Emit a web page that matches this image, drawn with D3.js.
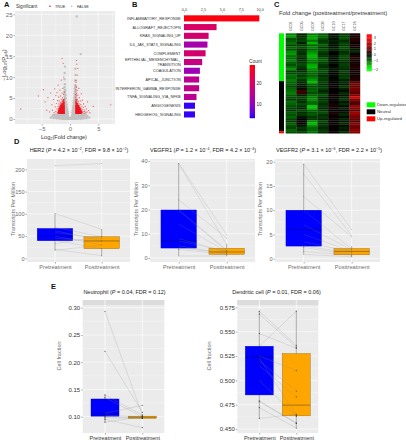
<!DOCTYPE html>
<html><head><meta charset="utf-8">
<script src="https://cdnjs.cloudflare.com/ajax/libs/d3/7.8.5/d3.min.js"></script>
<style>
html,body{margin:0;padding:0;background:#fff}
svg{display:block;font-family:"Liberation Sans",Arial,sans-serif}
</style></head><body><svg id="c" width="406" height="440"></svg>
<script>
// ---------- Panel A: volcano (log2FC, -log10 Padj) ----------
const volcanoGrey = [[1.2,24.5],[1.9,15.5],[-0.9,12.5],[-0.95,11],[0.95,12],[0.98,10.5],[-0.97,9.5],[0.92,9.2],[-0.9,8.3],[0.9,8.1],[-0.96,7.6],[0.85,7.3],[-0.85,6.8],[0.95,6.9],[-0.92,6.2],[0.8,6.1],[-0.8,5.7],[0.9,5.6],[-0.95,5.3],[0.76,5.1],[-0.72,4.9],[0.95,4.8],[-0.88,4.6],[0.7,4.4],[-0.95,4.3],[0.86,4.2],[-0.7,4.05],[0.66,3.9],[-0.82,3.85],[0.95,3.75],[-0.62,3.5],[0.8,3.5],[-0.95,3.45],[0.6,3.2],[-0.78,3.2],[0.93,3.15],[-0.6,2.95],[0.72,2.9],[-0.9,2.85],[0.55,2.65],[-0.7,2.65],[0.85,2.6],[-0.52,2.4],[0.96,2.35],[-0.82,2.35],[0.65,2.25],[-0.95,2.1],[0.48,2.05],[-0.6,2.05],[0.8,2],[-0.46,1.85],[0.95,1.75],[-0.75,1.8],[0.58,1.7],[-0.9,1.6],[0.42,1.55],[-0.55,1.55],[0.72,1.45],[-0.4,1.35],[0.88,1.3],[-0.7,1.3],[0.5,1.25],[-0.96,1.25],
[-3.4,0.3],[-3.1,0.65],[-2.9,0.2],[-2.8,0.9],[-2.6,0.45],[-2.5,1.1],[-2.4,0.15],[-2.3,0.7],[-2.2,1.15],[-2.1,0.35],[-2,0.85],[-1.9,0.1],[-1.85,1.2],[-1.8,0.55],[-1.7,0.95],[-1.65,0.25],[-1.55,0.7],[-1.5,1.2],[-1.42,0.05],[-1.4,0.45],[-1.33,0.9],[-1.25,0.2],[-1.2,1.15],[-1.17,0.65],[-1.1,0.02],[-1.05,0.4],[-1,0.85],[-0.95,0.18],[-0.9,1.1],[-0.85,0.6],[-0.8,0.05],[-0.75,0.35],[-0.7,0.95],[-0.65,0.15],[-0.6,0.6],[-0.55,1.1],[-0.5,0.02],[-0.47,0.4],[-0.4,0.8],[-0.36,0.12],[-0.3,0.45],[-0.25,0.02],[-0.2,0.22],[-0.13,0.06],[-0.08,0.02],
[3.4,0.35],[3.05,0.7],[2.85,0.15],[2.75,1],[2.55,0.5],[2.5,1.2],[2.35,0.12],[2.28,0.75],[2.18,1.1],[2.08,0.3],[1.98,0.88],[1.9,0.06],[1.84,1.2],[1.76,0.52],[1.68,1],[1.62,0.2],[1.54,0.68],[1.48,1.15],[1.4,0.08],[1.38,0.42],[1.3,0.92],[1.24,0.18],[1.18,1.2],[1.14,0.62],[1.08,0.03],[1.02,0.38],[0.98,0.86],[0.93,0.14],[0.88,1.08],[0.83,0.58],[0.78,0.04],[0.73,0.34],[0.68,0.96],[0.62,0.14],[0.58,0.62],[0.53,1.08],[0.48,0.03],[0.44,0.38],[0.38,0.8],[0.33,0.12],[0.28,0.42],[0.23,0.03],[0.18,0.2],[0.12,0.05],[0.06,0.02],[1.05,1.15],[-1.05,1.15],[1.5,0.85],[-1.5,0.35],[0.9,0.32],[-0.9,0.78],[0.75,1.18],[-0.78,1.2],[2.2,0.45],[-2.25,0.95],[0.6,0.2],[-0.58,0.25],
[-0.82,1.0],[-0.68,0.6],[-0.92,0.5],[-1.3,0.5],[-1.5,0.1],[-1.75,0.4],[-1.95,0.6],[-2.2,0.2],[-0.98,3.0],[-0.85,2.6],[-0.72,2.2],[-0.62,1.75],[-0.85,1.5],[-0.8,3.7],[-0.9,4.0],[-0.85,5.1],[-0.93,5.9],[-0.9,7.0],[-0.95,6.6],[0.82,1.0],[0.68,0.6],[0.92,0.5],[1.3,0.5],[1.5,0.1],[1.75,0.4],[1.95,0.6],[2.2,0.2],[0.98,3.0],[0.85,2.2],[0.72,2.2],[0.62,1.75],[0.85,1.5],[0.8,3.7],[0.9,4.0],[0.85,5.1],[0.93,5.9],[0.9,6.6],[0.95,7.6],[-1.15,0.9],[1.15,0.9],[-1.6,1.05],[1.6,1.05],[-2.35,1.0],[2.4,0.9],[-0.5,0.7],[0.5,0.75],[-0.38,0.55],[0.36,0.55],[-3.0,0.95],[3.0,0.4],[-2.65,0.75],[2.65,0.8]];
const volcanoRed = [[-8.7,2.4],[7.2,3.4],[-5.6,5.5],[-4.7,7],[4.1,3],[-4.4,4.1],[-4.1,2.1],[-3.9,5.1],[-3.6,1.7],[-3.4,6.2],[-3.2,3.4],[-3.1,2.1],[-2.9,4.7],[-2.8,1.5],[-2.7,7.2],[-2.6,2.9],[-2.5,5.6],[-2.5,1.8],[-2.4,3.7],[-2.3,2.4],[-2.3,6.3],[-2.2,1.5],[-2.2,4.4],[-2.1,3],[-2.1,8.1],[-2.05,1.9],[-2,2.5],[-2,5.2],[-1.95,1.4],[-1.95,3.6],[-1.9,4.3],[-1.9,2.1],[-1.85,2.9],[-1.85,1.6],[-1.8,6.9],[-1.8,3.3],[-1.75,1.35],[-1.75,2.4],[-1.7,3.9],[-1.7,1.85],[-1.7,5.5],[-1.65,2.7],[-1.65,3.1],[-1.6,1.45],[-1.6,2.15],[-1.55,9.3],[-1.55,4.7],[-1.55,3.5],[-1.5,1.65],[-1.5,2.5],[-1.5,3],[-1.45,1.35],[-1.45,2],[-1.45,4.1],[-1.4,14.5],[-1.4,6.2],[-1.4,2.75],[-1.4,3.4],[-1.35,1.55],[-1.35,2.25],[-1.35,5.1],[-1.3,1.35],[-1.3,1.9],[-1.3,3],[-1.3,3.8],[-1.25,7.3],[-1.25,2.5],[-1.25,1.6],[-1.25,4.4],[-1.2,13.3],[-1.2,2.1],[-1.2,3.3],[-1.2,1.4],[-1.15,2.8],[-1.15,1.75],[-1.15,5.9],[-1.15,3.7],[-1.1,2.35],[-1.1,1.45],[-1.1,3.1],[-1.1,10],[-1.08,1.95],[-1.08,4.1],[-1.05,1.35],[-1.05,2.6],[-1.05,3.45],[-1.05,1.65],[-1.03,2.15],[-1.03,2.95],[-1.03,4.8],[-1.02,1.85],[-1.02,3.8],[-1.02,1.4],[-1.02,2.45],[-1.01,6.4],[-1.01,3.2],[-1.01,1.6],[-1.01,2.7],[-1.6,1.8],[-1.4,1.75],[-1.2,1.6],[-1.75,1.6],[-1.55,2.3],[-1.3,2.25],[-1.15,2.05],[-1.65,1.55],[-1.9,1.7],[-1.5,1.95],[-1.25,2.85],[-1.6,2.65],[-1.75,2.05],[-1.45,3.2],[-1.35,2.55],[-1.2,2.6],[-1.8,2.75],[-1.15,3.4],[-1.65,3.6],
[1.01,1.4],[1.01,1.7],[1.01,2.1],[1.02,2.5],[1.02,2.9],[1.02,3.3],[1.02,3.7],[1.03,4.2],[1.03,4.7],[1.03,5.2],[1.03,5.8],[1.04,6.5],[1.05,7.1],[1.05,7.9],[1.06,8.8],[1.08,9.2],[1.1,1.35],[1.1,1.85],[1.1,2.3],[1.1,2.7],[1.1,3.1],[1.12,3.5],[1.12,4.4],[1.12,5.5],[1.14,6.1],[1.15,7.6],[1.15,14],[1.18,1.5],[1.18,2],[1.18,2.5],[1.2,2.95],[1.2,3.4],[1.2,13.1],[1.22,4],[1.22,5],[1.24,1.35],[1.24,1.75],[1.25,2.2],[1.25,2.65],[1.25,6.8],[1.28,10.5],[1.3,1.55],[1.3,2.05],[1.3,3.1],[1.32,3.6],[1.32,4.6],[1.35,1.4],[1.35,2.35],[1.35,2.85],[1.38,12.1],[1.38,5.7],[1.4,1.7],[1.42,2.1],[1.42,3.3],[1.45,1.4],[1.45,2.6],[1.48,4.2],[1.5,1.9],[1.5,3],[1.52,1.5],[1.55,2.3],[1.55,7.3],[1.58,3.7],[1.6,1.35],[1.6,2.75],[1.62,1.75],[1.65,2.1],[1.65,5.1],[1.7,1.45],[1.7,3.2],[1.72,2.45],[1.75,1.8],[1.8,1.35],[1.8,2.8],[1.82,4.3],[1.85,2.1],[1.9,1.6],[1.9,3.5],[1.95,2.5],[2,1.4],[2,6],[2.05,1.9],[2.1,3.1],[2.15,2.3],[2.2,1.5],[2.2,4.5],[2.3,1.8],[2.35,2.8],[2.4,3.6],[2.5,1.4],[2.5,2.2],[2.6,1.8],[2.7,3],[2.8,1.5],[2.9,2.4],[3,1.7],[3.1,4.1],[3.3,2],[3.5,1.5],[1.2,1.5],[1.4,1.5],[1.15,1.65],[1.35,1.85],[1.55,1.6],[1.25,1.9],[1.45,2.4],[1.65,1.5],[1.15,2.4],[1.3,2.5],[1.5,2.7],[1.7,2],[1.12,2.85],[1.4,3.1],[1.6,2.2],[1.8,1.7]];
const volcanoRedDense = [[-1.02,1.4],[-1.1,1.4],[-1.18,1.4],[-1.26,1.42],[-1.34,1.4],[-1.42,1.42],[-1.5,1.4],[-1.58,1.42],[-1.66,1.42],[-1.74,1.45],[-1.82,1.42],[-1.9,1.45],[-2.0,1.5],[-2.1,1.5],[-1.05,1.72],[-1.14,1.7],[-1.22,1.75],[-1.3,1.72],[-1.38,1.7],[-1.46,1.75],[-1.54,1.72],[-1.62,1.72],[-1.7,1.7],[-1.78,1.75],[-1.86,1.8],[-1.96,1.75],[-2.06,1.7],[-1.03,2.02],[-1.12,2.0],[-1.2,2.02],[-1.28,2.05],[-1.36,2.02],[-1.44,2.0],[-1.52,2.05],[-1.6,2.02],[-1.68,2.0],[-1.76,2.05],[-1.84,2.02],[-1.94,2.05],[-2.02,2.1],[-1.06,2.3],[-1.14,2.32],[-1.22,2.35],[-1.32,2.38],[-1.4,2.32],[-1.48,2.35],[-1.58,2.35],[-1.66,2.38],[-1.74,2.3],[-1.84,2.35],[-1.92,2.4],[-1.04,2.65],[-1.13,2.65],[-1.22,2.68],[-1.3,2.7],[-1.38,2.62],[-1.46,2.7],[-1.54,2.7],[-1.64,2.6],[-1.72,2.68],[-1.8,2.6],[-1.06,3.0],[-1.16,3.0],[-1.24,3.05],[-1.34,3.0],[-1.42,3.0],[-1.52,3.1],[-1.6,3.0],[-1.68,2.95],[-1.05,3.3],[-1.14,3.25],[-1.26,3.35],[-1.36,3.3],[-1.48,3.35],[-1.56,3.25],[-1.08,3.65],[-1.2,3.7],[-1.32,3.6],[-1.44,3.65],[-1.04,4.0],[-1.15,4.05],[-1.28,4.1],[-1.1,4.5],[-1.2,4.6],
[1.04,1.4],[1.12,1.42],[1.2,1.4],[1.28,1.42],[1.36,1.42],[1.44,1.45],[1.52,1.42],[1.6,1.42],[1.68,1.4],[1.76,1.42],[1.84,1.45],[1.92,1.42],[2.02,1.45],[1.05,1.72],[1.13,1.7],[1.21,1.72],[1.29,1.72],[1.37,1.7],[1.45,1.72],[1.53,1.75],[1.61,1.72],[1.69,1.72],[1.77,1.72],[1.85,1.75],[1.95,1.72],[2.05,1.68],[1.04,2.02],[1.12,2.02],[1.2,2.05],[1.28,2.02],[1.36,2.0],[1.44,2.05],[1.52,2.02],[1.6,2.02],[1.68,2.05],[1.76,2.02],[1.86,2.02],[1.96,2.0],[1.06,2.32],[1.14,2.3],[1.22,2.35],[1.32,2.3],[1.4,2.35],[1.48,2.32],[1.58,2.35],[1.66,2.3],[1.76,2.35],[1.85,2.4],[1.04,2.62],[1.14,2.65],[1.24,2.68],[1.34,2.62],[1.42,2.68],[1.52,2.65],[1.62,2.6],[1.7,2.65],[1.05,2.95],[1.16,3.0],[1.26,3.0],[1.36,3.05],[1.46,2.95],[1.56,3.0],[1.05,3.3],[1.16,3.3],[1.28,3.35],[1.38,3.3],[1.5,3.3],[1.08,3.65],[1.2,3.7],[1.3,3.65],[1.04,4.0],[1.18,4.05],[1.1,4.5]];
const volcanoXTicks = [-5,0,5];
const volcanoYTicks = [0,5,10,15,20,25];

// ---------- Panel B: enrichment bars ----------
const pathways = ["INFLAMMATORY_RESPONSE","ALLOGRAFT_REJECTOPN","KRAS_SIGNALING_UP","IL6_JAK_STAT3_SIGNALING","COMPLEMENT","EPITHELIAL_MESENCHYMAL_\nTRANSITION","COAGULATION","APICAL_JUNCTION","INTERFERON_GAMMA_RESPONSE","TNFA_SIGNALING_VIA_NFKB","ANGIOGENESIS","HEDGEHOG_SIGNALING"];
const pathwayValues = [9.95,4.3,3.25,3.1,2.85,2.4,2.1,2.0,2.0,1.65,1.45,1.45];
const pathwayCounts = [28,20,19,12,19,17,11,15,16,15,4,4];
const barTicks = [0,2.5,5,7.5,10];
const countTicks = [10,20];

// ---------- Panel C: heat map, one array per sample ----------
const samples = ["GC01","GC05","GC07","GC09","GC10","GC17","GC18"];
const gc01 = [-1.1,-1.3,-0.7,-0.8,-1.0,-0.6,-0.9,-0.7,-1.2,-1.3,-1.0,-0.9,-1.1,-0.8,-0.7,-1.0,-1.2,-0.6,-0.7,-1.0,-0.9,-1.1,-0.9,-0.8,-0.6,-0.9,-1.0,-1.1,-0.8,-0.7,-0.5,-1.0,-0.9,-0.7,-0.6,-0.5,-0.8,-0.7,-0.9,-0.6,-0.5,-0.8,-0.7,-0.6,-0.9,-0.7];
const gc05 = [-0.3,-0.4,-0.5,-0.6,-0.3,-0.5,-0.7,-0.4,-0.5,-0.4,-0.6,-0.3,-0.4,-0.5,-0.7,-0.5,-0.3,-0.4,-0.6,-0.5,-0.8,-0.5,-0.4,-0.3,-0.2,-0.1,0.6,0.5,-0.3,-0.6,-0.5,-0.4,-0.7,-0.5,-0.3,-0.6,-0.4,-0.5,-0.2,0,0.1,0,-0.2,-0.5,-0.4,-0.6];
const gc07 = [-1.1,-1.3,-1.4,-1.0,-1.5,-0.9,-1.1,-0.9,-1.2,-1.4,-1.5,-1.3,-1.1,-1.0,-1.4,-1.5,-1.2,-1.0,-0.9,-0.9,-1.1,-1.3,-1.5,-0.9,-0.7,-0.8,-0.9,-0.7,-0.9,-1.1,-1.2,-1.0,-0.9,-1.6,-1.5,-0.9,-0.7,-0.8,-0.5,-0.5,-1.2,-1.5,-1.2,-0.9,-0.9,-1.0];
const gc09 = [-0.8,-0.9,-0.7,-0.5,-0.6,-0.8,-0.5,-0.7,-0.6,-0.4,-0.5,-0.7,-0.8,-0.6,-0.5,-0.4,-0.6,-0.7,-0.5,-0.4,-0.6,-0.5,-0.6,-0.4,-0.5,-0.6,-0.3,-0.5,-0.7,-0.4,-0.5,-0.6,-0.4,-0.5,-0.3,-0.5,-0.7,-0.4,-0.5,-0.3,-0.6,-0.4,-0.5,-0.3,-0.5,-0.4];
const gc10 = [-0.1,-0.2,-0.1,-0.3,-0.2,-0.1,-0.2,-0.3,-0.1,0,-0.2,-0.1,-0.1,-0.2,0,-0.1,-0.2,-0.1,0,-0.1,0.05,-0.1,0.05,0,0.1,0.05,0,0.1,0.05,0.1,0,0.05,0.2,0.15,0.1,0.05,0.2,0.15,0.05,0.1,0,0.1,0.05,0,0.1,0.05];
const gc17 = [-0.5,-0.6,-0.7,-0.4,-0.6,-0.5,-0.7,-0.6,-0.4,-0.5,-0.7,-0.6,-0.5,-0.4,-0.6,-0.5,-0.3,-0.6,-0.4,-0.5,-0.6,-0.3,-0.4,-0.2,-0.5,-0.3,-0.1,-0.4,-0.2,-0.3,-0.5,-0.2,-0.4,-0.1,-0.3,0,-0.2,-0.4,-0.1,-0.3,-0.2,-0.4,-0.1,-0.3,-0.2,-0.4];
const gc18 = [0.2,0.15,0.3,0.35,0.1,0.2,0.15,-0.2,-0.4,0.1,0.2,0.3,0.15,0.1,0.2,0.3,0.15,0.2,0.1,0.15,0.3,0.2,0.8,1.0,0.9,1.1,1.0,0.8,1.2,2.4,1.1,0.9,0.6,1.5,1.3,0.8,1.6,1.4,1.1,0.9,0.7,1.3,1.0,0.9,1.5,1.2];
const sideGroups = ["Down-regulated","Neutral","Up-regulated"];
const sideCounts = [22,23,1];
const heatTicks = [-2,-1,0,1,2,3];

// ---------- Panel D ----------
const timepoints = ["Pretreatment","Posttreatment"];
const her2Pairs = [[208,213],[101,65],[70,48],[62,40],[58,44],[50,30],[45,38],[40,22],[33,49],[18,30],[20,6]];
const her2Box = [[18,39.5,50,67,101],[4,21.5,39,48.5,65]];
const her2Ticks = [0,50,100,150,200];
const vegfr1Pairs = [[39,9.5],[39,5.5],[24,8.2],[20,3.2],[19.5,3],[14,2.6],[8,2.5],[7,2.8],[5,1.8],[4.2,2],[3.5,1.5],[0.8,0.8]];
const vegfr1Box = [[0.8,4.1,7.1,19.8,39],[0.8,1.5,2.5,4,5.5]];
const vegfr1Ticks = [0,10,20,30,40];
const vegfr2Pairs = [[19.5,6],[17.5,4.8],[12.8,4.5],[10,2],[7,1.8],[5,1.5],[3.5,1.4],[2.6,1.2],[2.3,0.8],[1.5,0.7],[0.9,0.4]];
const vegfr2Box = [[0.9,2.6,6,10,19.6],[0.3,0.8,1.5,2.1,2.6]];
const vegfr2Ticks = [0,5,10,15,20];

// ---------- Panel E ----------
const neutroPairs = [[0.293,0.103],[0.22,0.108],[0.14,0.103],[0.135,0.1],[0.106,0.121],[0.103,0.099],[0.1,0.098],[0.098,0.097],[0.095,0.08],[0.09,0.1]];
const neutroBox = [[0.09,0.101,0.105,0.1325,0.14],[0.096,0.097,0.099,0.101,0.103]];
const neutroTicks = [0.10,0.15,0.20,0.25,0.30];
const dendPairs = [[0.571,0.536],[0.568,0.534],[0.548,0.533],[0.535,0.571],[0.525,0.51],[0.523,0.464],[0.52,0.489],[0.515,0.483],[0.50,0.463],[0.479,0.456],[0.478,0.456],[0.472,0.451],[0.461,0.465]];
const dendBox = [[0.461,0.485,0.524,0.535,0.571],[0.4515,0.4635,0.4745,0.5275,0.571]];
const dendTicks = [0.45,0.475,0.5,0.525,0.55,0.575];

// ---------- drawing ----------
const svg = d3.select("#c");
const greyText = "#6e6e6e", panelBg = "#ebebeb";

function letter(t,x,y){svg.append("text").attr("x",x).attr("y",y).attr("font-size",7.5).attr("font-weight","bold").attr("fill","#111").text(t);}
letter("A",4,6.5);letter("B",132,6.5);letter("C",274,6.5);letter("D",14,144);letter("E",51,289);

function styleAxis(g,color,size){
  g.select(".domain").remove();
  g.selectAll("line").attr("stroke","#555").attr("stroke-width",0.5);
  g.selectAll("text").attr("font-size",size).attr("fill",color).attr("font-family","'Liberation Sans',Arial,sans-serif");
}
function richTitle(x,y,parts,size){
  const t=svg.append("text").attr("x",x).attr("y",y).attr("text-anchor","middle").attr("font-size",size).attr("fill","#222");
  parts.forEach(p=>{
    const s=t.append("tspan").text(p.t);
    if(p.i)s.attr("font-style","italic");
    if(p.sup)s.attr("dy",-2).attr("font-size",size*0.65);
    if(p.down)s.attr("dy",2);
  });
}

// Panel A
(function(){
  const L=15,R=115,T=11,B=124;
  const x=d3.scaleLinear().domain([-5,5]).range([41.7,98.3]);
  const y=d3.scaleLinear().domain([0,25]).range([119,14.3]);
  svg.append("rect").attr("x",L).attr("y",T).attr("width",R-L).attr("height",B-T).attr("fill",panelBg);
  const g=svg.append("g");
  [-7.5,-2.5,2.5,7.5].forEach(v=>g.append("line").attr("x1",x(v)).attr("x2",x(v)).attr("y1",T).attr("y2",B).attr("stroke","#fff").attr("stroke-width",0.3));
  [2.5,7.5,12.5,17.5,22.5].forEach(v=>g.append("line").attr("y1",y(v)).attr("y2",y(v)).attr("x1",L).attr("x2",R).attr("stroke","#fff").attr("stroke-width",0.3));
  volcanoXTicks.forEach(v=>g.append("line").attr("x1",x(v)).attr("x2",x(v)).attr("y1",T).attr("y2",B).attr("stroke","#fff").attr("stroke-width",0.6));
  volcanoYTicks.forEach(v=>g.append("line").attr("y1",y(v)).attr("y2",y(v)).attr("x1",L).attr("x2",R).attr("stroke","#fff").attr("stroke-width",0.6));
  svg.append("g").selectAll("circle").data(volcanoGrey).join("circle").attr("cx",d=>x(d[0])).attr("cy",d=>y(d[1])).attr("r",1.2).attr("fill","#c2c2c2");
  svg.append("g").selectAll("circle").data(volcanoRed).join("circle").attr("cx",d=>x(d[0])).attr("cy",d=>y(d[1])).attr("r",0.62).attr("fill","#f01520").attr("fill-opacity",0.7);
  svg.append("g").selectAll("circle").data(volcanoRedDense).join("circle").attr("cx",d=>x(d[0])).attr("cy",d=>y(d[1])).attr("r",0.8).attr("fill","#f01520").attr("fill-opacity",0.9);
  const ax=svg.append("g").attr("transform",`translate(0,${B})`).call(d3.axisBottom(x).tickValues(volcanoXTicks).tickSize(1.5).tickPadding(1).tickFormat(d=>d<0?"\u2212"+(-d):d));
  styleAxis(ax,greyText,6);
  const ay=svg.append("g").attr("transform",`translate(${L},0)`).call(d3.axisLeft(y).tickValues(volcanoYTicks).tickSize(1.5).tickPadding(1));
  styleAxis(ay,greyText,6);
  svg.append("text").attr("x",16).attr("y",8).attr("font-size",4.6).attr("fill","#333").text("Significant");
  svg.append("circle").attr("cx",50).attr("cy",6.3).attr("r",0.8).attr("fill","#ee1520");
  svg.append("text").attr("x",55).attr("y",8).attr("font-size",3.8).attr("fill","#333").text("TRUE");
  svg.append("circle").attr("cx",71.7).attr("cy",6.3).attr("r",0.8).attr("fill","#bdbdbd");
  svg.append("text").attr("x",77).attr("y",8).attr("font-size",3.8).attr("fill","#333").text("FALSE");
  const yl=svg.append("text").attr("transform","translate(5.5,65) rotate(-90)").attr("text-anchor","middle").attr("font-size",6).attr("fill","#444");
  yl.append("tspan").text("\u2212Log");yl.append("tspan").text("10").attr("font-size",4).attr("dy",1.2);
  yl.append("tspan").text("(P").attr("dy",-1.2);yl.append("tspan").text("adj").attr("font-size",4).attr("dy",1.2);yl.append("tspan").text(")").attr("dy",-1.2);
  const xl=svg.append("text").attr("x",64).attr("y",139).attr("text-anchor","middle").attr("font-size",5.6).attr("fill","#333");
  xl.append("tspan").text("Log");xl.append("tspan").text("2").attr("font-size",3.8).attr("dy",1.2);xl.append("tspan").text("(Fold change)").attr("dy",-1.2);
})();

// Panel B
(function(){
  const x=d3.scaleLinear().domain([0,10]).range([184,259.7]);
  const y=d3.scaleBand().domain(pathways).range([14,118.8]).paddingInner(0.3).paddingOuter(0.15);
  const cMin=3.3,cMax=28.6;
  const color=d3.scaleLinear().domain([cMin,cMax]).range(["#0000ff","#ff0000"]).interpolate(d3.interpolateLab);
  svg.append("g").selectAll("rect").data(pathways).join("rect")
    .attr("x",x(0)).attr("y",d=>y(d)).attr("height",y.bandwidth())
    .attr("width",(d,i)=>x(pathwayValues[i])-x(0)).attr("fill",(d,i)=>color(pathwayCounts[i]));
  const top=svg.append("g").attr("transform","translate(0,12.5)").call(d3.axisTop(x).tickValues(barTicks).tickSize(1).tickPadding(1).tickFormat(d3.format(".1f")));
  styleAxis(top,"#444",3.8);
  pathways.forEach(p=>{
    const lines=p.split("\n");
    const cy=y(p)+y.bandwidth()/2;
    lines.forEach((l,k)=>svg.append("text").attr("x",180.7).attr("y",cy+1.4+(k-(lines.length-1)/2)*5).attr("text-anchor","end").attr("font-size",3.85).attr("fill","#333").text(l));
  });
  const cy=d3.scaleLinear().domain([cMin,cMax]).range([118,65]);
  const stops=d3.range(0,53);
  svg.append("g").selectAll("rect").data(stops).join("rect").attr("x",249.7).attr("width",5.3)
    .attr("y",d=>65+d).attr("height",1.2).attr("fill",d=>color(cy.invert(65+d+0.5)));
  const a=svg.append("g").attr("transform","translate(255,0)").call(d3.axisRight(cy).tickValues(countTicks).tickSize(0).tickPadding(1.5));
  styleAxis(a,"#333",4.6);
  svg.append("text").attr("x",249).attr("y",62.5).attr("font-size",4.8).attr("fill","#333").text("Count");
})();

// Panel C
(function(){
  const cols=[gc01,gc05,gc07,gc09,gc10,gc17,gc18];
  const nRows=gc01.length;
  const x=d3.scaleBand().domain(samples).range([285.7,360]);
  const y=d3.scaleBand().domain(d3.range(nRows)).range([33.3,133.3]);
  const color=d3.scaleLinear().domain([-2,-1,0,1,3]).range(["#00ff00","#007000","#000000","#700000","#ff0000"]).clamp(true);
  samples.forEach((s,j)=>{
    svg.append("g").selectAll("rect").data(cols[j]).join("rect")
      .attr("x",x(s)).attr("y",(d,i)=>y(i)).attr("width",x.bandwidth()+0.2).attr("height",y.bandwidth()+0.2)
      .attr("fill",d=>color(d));
    svg.append("text").attr("transform",`translate(${x(s)+x.bandwidth()/2+1.3},31) rotate(-90)`).attr("font-size",3.7).attr("fill","#444").text(s);
  });
  const sideColors=["#00ff00","#000000","#ff0000"];
  let off=0;
  sideCounts.forEach((c,k)=>{
    svg.append("rect").attr("x",279).attr("width",5).attr("y",y(off)).attr("height",c*y.bandwidth()).attr("fill",sideColors[k]);
    off+=c;
  });
  svg.append("text").attr("x",279).attr("y",14.6).attr("font-size",5.85).attr("fill","#333").text("Fold change (posttreatment/pretreatment)");
  const cb=d3.scaleLinear().domain(heatTicks).range([69,60.7,54.3,48.7,43.3,37.3]);
  const cbVal=d3.scaleLinear().domain([-2.3,-2,0,3,3.6]).range([70.7,69,54.3,37.3,34.3]);
  svg.append("g").selectAll("rect").data(d3.range(34.3,70.7,0.8)).join("rect").attr("x",366.7).attr("width",5).attr("y",d=>d).attr("height",1)
    .attr("fill",d=>color(cbVal.invert(d+0.4)));
  const a=svg.append("g").attr("transform","translate(371.7,0)").call(d3.axisRight(cb).tickValues(heatTicks).tickSize(1).tickPadding(1).tickFormat(d=>d<0?"\u2212"+(-d):d));
  styleAxis(a,"#333",3.9);
  const ly=[102.3,109.3,116.3];
  sideGroups.forEach((g,k)=>{
    svg.append("rect").attr("x",366.7).attr("y",ly[k]).attr("width",8.6).attr("height",5).attr("fill",sideColors[k]);
    svg.append("text").attr("x",377).attr("y",ly[k]+3.6).attr("font-size",4.3).attr("fill","#333").text(g);
  });
})();

// box-and-pairs panels
function boxPanel(o){
  const x=d3.scalePoint().domain(timepoints).range(o.xr);
  const y=d3.scaleLinear().domain(o.yd).range(o.yr);
  svg.append("rect").attr("x",o.L).attr("y",o.T).attr("width",o.R-o.L).attr("height",o.B-o.T).attr("fill",panelBg);
  if(o.strip) svg.append("rect").attr("x",o.L).attr("y",o.T).attr("width",o.R-o.L).attr("height",5).attr("fill","#dcdcdc");
  const gg=svg.append("g");
  o.ticks.forEach((v,i)=>{
    gg.append("line").attr("x1",o.L).attr("x2",o.R).attr("y1",y(v)).attr("y2",y(v)).attr("stroke","#fff").attr("stroke-width",0.6);
    if(i<o.ticks.length-1){const m=(v+o.ticks[i+1])/2;
      gg.append("line").attr("x1",o.L).attr("x2",o.R).attr("y1",y(m)).attr("y2",y(m)).attr("stroke","#fff").attr("stroke-width",0.3);}
  });
  timepoints.forEach(t=>gg.append("line").attr("x1",x(t)).attr("x2",x(t)).attr("y1",o.T).attr("y2",o.B).attr("stroke","#fff").attr("stroke-width",0.7));
  const bw=o.bw, cols=["#0000ff","#ffa500"], stroke=["#0000cc","#8a6a1a"];
  timepoints.forEach((t,i)=>{
    const b=o.box[i];
    svg.append("line").attr("x1",x(t)).attr("x2",x(t)).attr("y1",y(b[0])).attr("y2",y(b[4])).attr("stroke","#888").attr("stroke-width",0.7);
    svg.append("rect").attr("x",x(t)-bw/2).attr("width",bw).attr("y",y(b[3])).attr("height",y(b[1])-y(b[3])).attr("fill",cols[i]).attr("stroke",stroke[i]).attr("stroke-width",0.4);
    svg.append("line").attr("x1",x(t)-bw/2).attr("x2",x(t)+bw/2).attr("y1",y(b[2])).attr("y2",y(b[2])).attr("stroke",i?"#6b5015":"#00009a").attr("stroke-width",0.6);
  });
  svg.append("g").selectAll("line").data(o.pairs).join("line")
    .attr("x1",x(timepoints[0])).attr("x2",x(timepoints[1])).attr("y1",d=>y(d[0])).attr("y2",d=>y(d[1]))
    .attr("stroke","#8c8c8c").attr("stroke-opacity",o.lo).attr("stroke-width",0.45);
  [0,1].forEach(i=>svg.append("g").selectAll("circle").data(o.pairs).join("circle")
    .attr("cx",x(timepoints[i])).attr("cy",d=>y(d[i])).attr("r",o.pr).attr("fill","#222").attr("fill-opacity",o.po));
  const ay=svg.append("g").attr("transform",`translate(${o.L},0)`).call(d3.axisLeft(y).tickValues(o.ticks).tickSize(1.5).tickPadding(1).tickFormat(o.fmt||(d=>d)));
  styleAxis(ay,o.tc,o.fs);
  const ax=svg.append("g").attr("transform",`translate(0,${o.B})`).call(d3.axisBottom(x).tickSize(1.5).tickPadding(1.5));
  styleAxis(ax,o.tc,o.xfs);
  svg.append("text").attr("transform",`translate(${o.lx},${o.ly}) rotate(-90)`).attr("text-anchor","middle").attr("font-size",5.5).attr("fill",greyText).text(o.yl);
  richTitle(o.tx,o.ty,o.title,o.tfs);
}
const sup=(a,b,c,d,name)=>[{t:name+" ("},{t:"P",i:1},{t:" = "+a+" \u00d7 10"},{t:"\u2212"+b,sup:1},{t:", FDR = "+c+" \u00d7 10",down:1},{t:"\u2212"+d,sup:1},{t:")",down:1}];
const dBase={T:159,B:262,bw:35.5,pr:0.4,po:0.45,lo:0.42,tc:greyText,fs:5.6,xfs:5.6,yl:"Transcripts Per Million",ly:209,ty:152,tfs:5.5};
boxPanel({...dBase,L:27,R:130,xr:[55,101.7],yd:[0,200],yr:[258.3,169.3],ticks:her2Ticks,box:her2Box,pairs:her2Pairs,lx:14.5,tx:79,title:sup("4.2","2","9.8","2","HER2")});
boxPanel({...dBase,L:150,R:255,xr:[178.7,226.7],yd:[0,40],yr:[258,161],ticks:vegfr1Ticks,box:vegfr1Box,pairs:vegfr1Pairs,lx:137.5,tx:203,title:sup("1.2","4","4.2","4","VEGFR1")});
boxPanel({...dBase,L:275,R:380,xr:[303.7,351.7],yd:[0,20],yr:[258.7,161.7],ticks:vegfr2Ticks,box:vegfr2Box,pairs:vegfr2Pairs,lx:262,tx:329,title:sup("3.1","6","2.2","5","VEGFR2")});
const eBase={T:300,B:433,bw:28,pr:0.6,po:0.75,lo:0.5,tc:"#333",fs:6,xfs:5.5,strip:1,yl:"Cell fraction",ly:356,ty:294,tfs:5.5};
boxPanel({...eBase,L:82.7,R:164.3,xr:[105,142.3],yd:[0.10,0.30],yr:[416.7,307.7],ticks:neutroTicks,box:neutroBox,pairs:neutroPairs,lx:61,tx:124.5,fmt:d3.format(".2f"),
  title:[{t:"Neutrophil ("},{t:"P",i:1},{t:" = 0.04, FDR = 0.12)"}]});
boxPanel({...eBase,L:237.3,R:318.3,xr:[259.3,296.3],yd:[0.45,0.575],yr:[429,307.3],ticks:dendTicks,box:dendBox,pairs:dendPairs,lx:211,tx:276.5,fmt:d3.format(".3f"),
  title:[{t:"Dendritic cell ("},{t:"P",i:1},{t:" = 0.01, FDR = 0.06)"}]});
</script></body></html>
